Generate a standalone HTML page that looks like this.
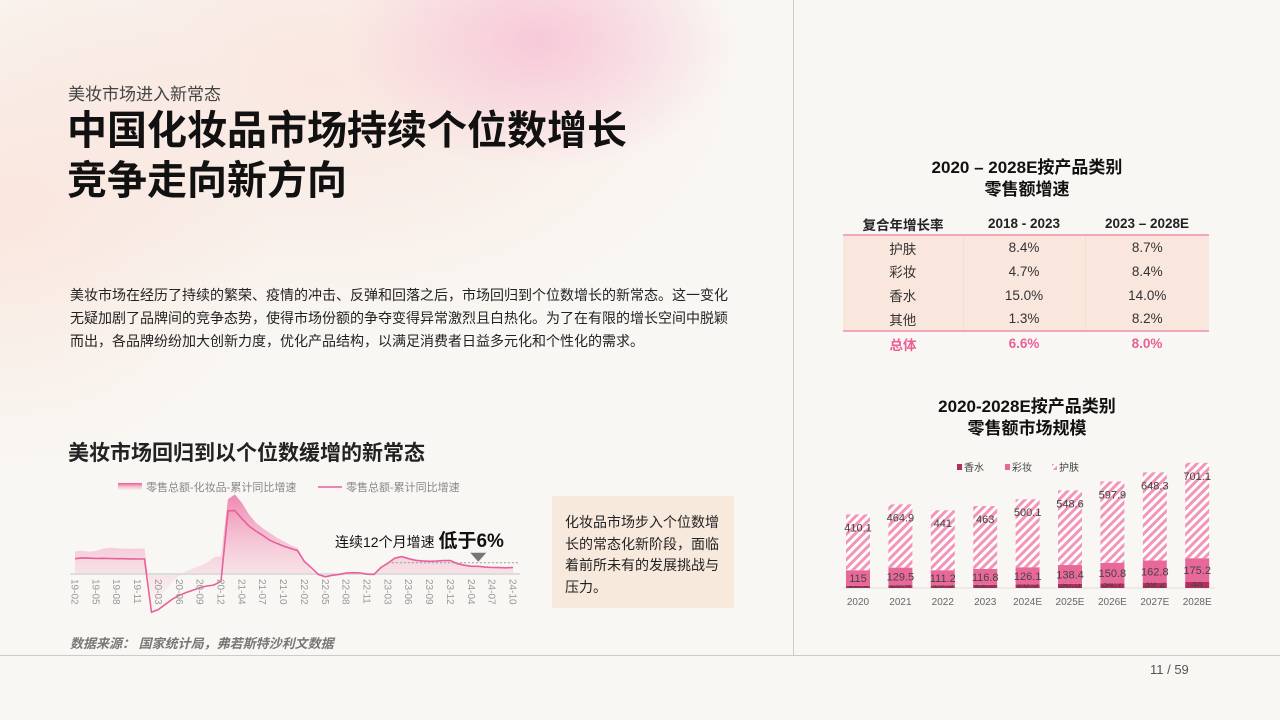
<!DOCTYPE html>
<html><head><meta charset="utf-8">
<style>
*{margin:0;padding:0;box-sizing:border-box}
body{width:1280px;height:720px;overflow:hidden;background:#f9f7f3;font-family:"Liberation Sans","Noto Sans CJK SC",sans-serif;position:relative;color:#222}
.abs{position:absolute}
#bg{position:absolute;left:0;top:0;width:793px;height:655px;background:
radial-gradient(ellipse 200px 130px at 540px 40px,rgba(246,175,205,.6),rgba(246,175,205,0) 100%),
radial-gradient(ellipse 420px 260px at 320px 80px,rgba(250,210,200,.45),rgba(250,210,200,0) 100%),
radial-gradient(ellipse 280px 250px at 0px 220px,rgba(250,212,198,.45),rgba(250,212,198,0) 100%)}
table{border-collapse:collapse}
</style></head><body>
<div id="bg"></div>
<div class="abs" style="left:793px;top:0;width:1px;height:655px;background:#cfcac4"></div>
<div class="abs" style="left:0;top:655px;width:1280px;height:1px;background:#cfcac4"></div>
<div class="abs" style="left:1150px;top:662px;font-size:13px;color:#555">11 / 59</div>

<div class="abs" style="left:68px;top:80px;font-size:17px;color:#444">美妆市场进入新常态</div>
<div class="abs" style="left:67px;top:106px;font-size:40px;font-weight:bold;line-height:50px;color:#111">中国化妆品市场持续个位数增长<br>竞争走向新方向</div>
<div class="abs" style="left:70px;top:284px;width:668px;font-size:14px;line-height:23px;color:#222">美妆市场在经历了持续的繁荣、疫情的冲击、反弹和回落之后，市场回归到个位数增长的新常态。这一变化无疑加剧了品牌间的竞争态势，使得市场份额的争夺变得异常激烈且白热化。为了在有限的增长空间中脱颖而出，各品牌纷纷加大创新力度，优化产品结构，以满足消费者日益多元化和个性化的需求。</div>
<div class="abs" style="left:68px;top:437px;font-size:21px;font-weight:bold;color:#222">美妆市场回归到以个位数缓增的新常态</div>

<svg class="abs" style="left:0;top:470px" width="550" height="150" id="lc"></svg>

<div class="abs" style="left:552px;top:496px;width:182px;height:112px;background:#f8e9dd;padding:16px 0 0 13px;font-size:14px;line-height:21.5px;color:#222">化妆品市场步入个位数增<br>长的常态化新阶段，面临<br>着前所未有的发展挑战与<br>压力。</div>
<div class="abs" style="left:70px;top:633px;font-size:13px;font-style:italic;font-weight:bold;color:#777">数据来源：&nbsp;国家统计局，弗若斯特沙利文数据</div>

<div class="abs" style="left:843px;top:157px;width:368px;text-align:center;font-size:17px;font-weight:bold;line-height:22px;color:#111">2020 – 2028E按产品类别<br>零售额增速</div>
<table class="abs" style="left:843px;top:213px;width:366px;font-size:13.5px;text-align:center">
<tr style="height:22px;font-weight:bold;border-bottom:2px solid #f0a6bd"><td style="width:120px">复合年增长率</td><td style="width:122px">2018 - 2023</td><td>2023 – 2028E</td></tr>
<tr style="height:24px;background:#f9e6dc;color:#333"><td>护肤</td><td style="border-left:1px solid #f3ddd3;border-right:1px solid #f3ddd3">8.4%</td><td>8.7%</td></tr>
<tr style="height:24px;background:#f9e6dc;color:#333"><td>彩妆</td><td style="border-left:1px solid #f3ddd3;border-right:1px solid #f3ddd3">4.7%</td><td>8.4%</td></tr>
<tr style="height:24px;background:#f9e6dc;color:#333"><td>香水</td><td style="border-left:1px solid #f3ddd3;border-right:1px solid #f3ddd3">15.0%</td><td>14.0%</td></tr>
<tr style="height:24px;background:#f9e6dc;color:#333;border-bottom:2px solid #f0a6bd"><td>其他</td><td style="border-left:1px solid #f3ddd3;border-right:1px solid #f3ddd3">1.3%</td><td>8.2%</td></tr>
<tr style="height:24px;color:#ea5f96;font-weight:bold"><td>总体</td><td>6.6%</td><td>8.0%</td></tr>
</table>

<div class="abs" style="left:843px;top:396px;width:368px;text-align:center;font-size:17px;font-weight:bold;line-height:22px;color:#111">2020-2028E按产品类别<br>零售额市场规模</div>
<svg class="abs" style="left:830px;top:455px" width="400" height="165" id="bc">
<defs><pattern id="hatch" width="6" height="6" patternUnits="userSpaceOnUse" patternTransform="rotate(45)"><rect width="6" height="6" fill="#fff"/><rect width="3" height="6" fill="#f295b6"/></pattern></defs>
</svg>

<script>
// ---- line chart data ----
const periods=["19-02","19-03","19-04","19-05","19-06","19-07","19-08","19-09","19-10","19-11","19-12",
"20-02","20-03","20-04","20-05","20-06","20-07","20-08","20-09","20-10","20-11","20-12",
"21-02","21-03","21-04","21-05","21-06","21-07","21-08","21-09","21-10","21-11","21-12",
"22-02","22-03","22-04","22-05","22-06","22-07","22-08","22-09","22-10","22-11","22-12",
"23-02","23-03","23-04","23-05","23-06","23-07","23-08","23-09","23-10","23-11","23-12",
"24-02","24-03","24-04","24-05","24-06","24-07","24-08","24-09","24-10"];
const retailTotal=[8.2,8.6,8.5,8.3,8.4,8.3,8.2,8.2,8.1,8.0,8.0,
-20.5,-19,-16.2,-13.5,-11.4,-9.9,-8.6,-7.2,-6.4,-5.9,-3.9,
33.8,33.9,29.6,25.7,23,20.7,18.1,16.4,14.9,13.7,12.5,
6.7,3.3,-0.2,-1.5,-0.7,-0.2,0.5,0.7,0.6,-0.1,-0.2,
3.5,5.8,8.5,9.3,8.2,7.3,7.0,6.8,6.9,7.2,7.2,
5.5,4.7,4.1,4.1,3.7,3.5,3.4,3.3,3.5];
const cosmetics=[12.1,12.5,12.0,12.3,13.5,14.0,13.8,13.6,13.5,13.6,13.6,
-14.1,-13.2,-9,-4,-1,1.5,3,4.5,6,9,9.5,
40,42.5,38,32,27.5,24.5,22,19.5,17.5,15.5,14,
7,2,-1,-2,-1,0,0.5,0.7,0.5,-0.5,-0.5,
3.5,6,8.5,9.5,8.5,7.5,7.2,7,7.2,7.5,7.5,
5.6,4.8,4.2,4.1,3.8,3.6,3.5,3.4,3.5];
const tickEvery=3;
const threshold=6;
// ---- bar chart data ----
const years=["2020","2021","2022","2023","2024E","2025E","2026E","2027E","2028E"];
const perfume=[15.6,20.4,19.5,22.9,26.5,30.5,34.7,39.2,44];
const makeup=[115,129.5,111.2,116.8,126.1,138.4,150.8,162.8,175.2];
const skincare=[410.1,464.9,441,463,500.1,548.6,597.9,648.3,701.1];

const NS="http://www.w3.org/2000/svg";
function mk(p,t,a){const e=document.createElementNS(NS,t);for(const k in a)e.setAttribute(k,a[k]);p.appendChild(e);return e;}

// line chart
(function(){
const s=document.getElementById('lc');
const x0=75,x1=513,zeroY=104,k=1.87;
const X=i=>x0+(x1-x0)*i/(periods.length-1);
const Y=v=>zeroY-v*k;
const defs=mk(s,'defs',{});
const g=mk(defs,'linearGradient',{id:'ag',x1:0,y1:0,x2:0,y2:1});
mk(g,'stop',{offset:'0','stop-color':'#e8478a','stop-opacity':'0.9'});
mk(g,'stop',{offset:'1','stop-color':'#f7c6d6','stop-opacity':'0.2'});
const l1=mk(s,'rect',{x:118,y:13,width:24,height:7,fill:'url(#ag)'});

const t1=mk(s,'text',{x:146,y:21,'font-size':11,fill:'#888'});t1.textContent='零售总额-化妆品-累计同比增速';

const l2=mk(s,'line',{x1:318,y1:17,x2:342,y2:17,stroke:'#e8609a','stroke-width':1.5});

const t2=mk(s,'text',{x:346,y:21,'font-size':11,fill:'#888'});t2.textContent='零售总额-累计同比增速';

let d='M'+X(0)+','+Y(0);
cosmetics.forEach((v,i)=>{d+=' L'+X(i).toFixed(1)+','+Y(v).toFixed(1);});
d+=' L'+X(cosmetics.length-1)+','+Y(0)+' Z';
const a=mk(s,'path',{d:d,fill:'url(#ag)','fill-opacity':0.7});

const ax=mk(s,'line',{x1:70,y1:zeroY,x2:520,y2:zeroY,stroke:'#ddd','stroke-width':2});

const pts=retailTotal.map((v,i)=>X(i).toFixed(1)+','+Y(v).toFixed(1)).join(' ');
const pl=mk(s,'polyline',{points:pts,fill:'none',stroke:'#e8609a','stroke-width':1.6});

const th=mk(s,'line',{x1:X(45),y1:Y(threshold),x2:X(periods.length-1)+5,y2:Y(threshold),stroke:'#999','stroke-dasharray':'2,2','stroke-width':1});

const tx=X(58),ty=Y(threshold);
const tri=mk(s,'polygon',{points:(tx-8)+','+(ty-10)+' '+(tx+8)+','+(ty-10)+' '+tx+','+(ty-1),fill:'#777'});

const ann=mk(s,'text',{x:335,y:77,'font-size':14,fill:'#111'});

ann.innerHTML='连续12个月增速 <tspan font-size="19" font-weight="bold">低于6%</tspan>';
periods.forEach((p,i)=>{if(i%tickEvery)return;
const t=mk(s,'text',{x:0,y:0,'font-size':10,fill:'#999',transform:'translate('+(X(i)-3.5)+','+(zeroY+5)+') rotate(90)'});
t.textContent=p;});
})();

// bar chart
(function(){
const s=document.getElementById('bc');
const base=133,k=0.136,cx0=28,step=42.4,bw=24;
const H=v=>v*k;
const ax=mk(s,'line',{x1:13,y1:base,x2:385,y2:base,stroke:'#ddd','stroke-width':1});

const leg=[['香水','#b02f5c',127],['彩妆','#e8689a',175]];
leg.forEach(l=>{const r=mk(s,'rect',{x:l[2],y:9,width:5,height:6,fill:l[1]});

const t=mk(s,'text',{x:l[2]+7,y:16,'font-size':10,fill:'#444'});t.textContent=l[0];
});
const r3=mk(s,'rect',{x:222,y:9,width:5,height:6,fill:'url(#hatch)'});

const t3=mk(s,'text',{x:229,y:16,'font-size':10,fill:'#444'});t3.textContent='护肤';

years.forEach((yr,i)=>{
const cx=cx0+i*step,x=cx-bw/2;
let y=base;
const hp=H(perfume[i]);y-=hp;
const rp=mk(s,'rect',{x:x,y:y,width:bw,height:hp,fill:'#b02f5c'});

const lp=mk(s,'text',{x:cx,y:base-0.5,'font-size':11,fill:'#444','text-anchor':'middle'});lp.textContent=perfume[i];

const hm=H(makeup[i]);y-=hm;
const rm=mk(s,'rect',{x:x,y:y,width:bw,height:hm,fill:'#e8689a'});

const lm=mk(s,'text',{x:cx,y:y+hm/2+4,'font-size':11,fill:'#444','text-anchor':'middle'});lm.textContent=makeup[i];

const hs=H(skincare[i]);y-=hs;
const rs=mk(s,'rect',{x:x,y:y,width:bw,height:hs,fill:'url(#hatch)'});

const ls=mk(s,'text',{x:cx,y:y+17,'font-size':11,fill:'#444','text-anchor':'middle'});ls.textContent=skincare[i];

const ly=mk(s,'text',{x:cx,y:base+17,'font-size':10,fill:'#666','text-anchor':'middle'});ly.textContent=yr;

});
})();
</script>
</body></html>
